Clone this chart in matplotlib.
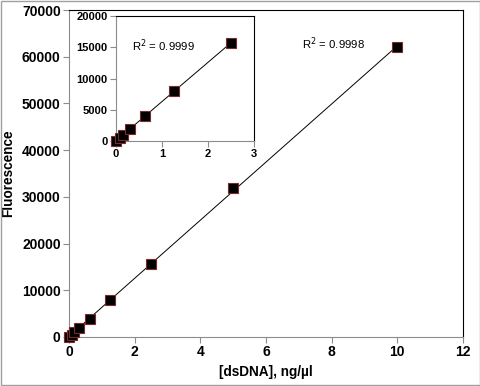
import numpy as np
import matplotlib
matplotlib.use('Agg')
import matplotlib.pyplot as plt
from matplotlib.patches import Rectangle

plt.rcParams['font.family'] = ['Liberation Sans', 'DejaVu Sans']

# standard curve data
conc = [0, 0.078, 0.156, 0.3125, 0.625, 1.25, 2.5, 5, 10]
fluor = [50, 520, 980, 2000, 3950, 7950, 15700, 31900, 62000]

slope, icept = np.polyfit(conc, fluor, 1)
inset_n = 7  # points shown in the inset (up to 2.5 ng/ul)
slope_i, icept_i = np.polyfit(conc[:inset_n], fluor[:inset_n], 1)

axis_grey = '#8c8c8c'


def style_axes(ax, fs):
    for s in ['left', 'bottom']:
        ax.spines[s].set_color(axis_grey)
    for s in ['top', 'right']:
        ax.spines[s].set_color('black')
    ax.tick_params(direction='out', color=axis_grey, length=4, width=0.8,
                   labelsize=fs, pad=2)
    for lab in ax.get_xticklabels() + ax.get_yticklabels():
        lab.set_fontweight('bold')


fig = plt.figure(figsize=(4.81, 3.86), dpi=100)
fig.patches.append(Rectangle((0.002, 0.003), 0.996, 0.994, transform=fig.transFigure,
                             fill=False, edgecolor='#a0a0a0', lw=1))

ax = fig.add_axes([0.1435, 0.127, 0.8191, 0.847])
xs = np.array([0, 10])
ax.plot(xs, slope * xs + icept, color='black', lw=0.7, zorder=2)
ax.plot(conc, fluor, 's', ms=7.5, mfc='black', mec='#7a2a2a', mew=0.8, zorder=3,
        clip_on=False)
ax.set_xlim(0, 12)
ax.set_ylim(0, 70000)
ax.set_xticks(np.arange(0, 13, 2))
ax.set_yticks(np.arange(0, 70001, 10000))
style_axes(ax, 10)
ax.set_xlabel('[dsDNA], ng/µl', fontsize=9.8, fontweight='bold', labelpad=4)
ax.set_ylabel('Fluorescence', fontsize=9.8, fontweight='bold', labelpad=5)
ax.text(8.05, 62700, 'R$^2$ = 0.9998', fontsize=8.2, ha='center', va='center')

axi = fig.add_axes([0.2412, 0.6347, 0.2869, 0.3238])
xi = np.array([0, 2.5])
axi.plot(xi, slope_i * xi + icept_i, color='black', lw=0.7, zorder=2)
axi.plot(conc[:inset_n], fluor[:inset_n], 's', ms=6.5, mfc='black', mec='#7a2a2a',
         mew=0.8, zorder=3, clip_on=False)
axi.set_xlim(0, 3)
axi.set_ylim(0, 20000)
axi.set_xticks([0, 1, 2, 3])
axi.set_yticks(np.arange(0, 20001, 5000))
style_axes(axi, 8)
axi.text(1.04, 15250, 'R$^2$ = 0.9999', fontsize=8.2, ha='center', va='center')

fig.savefig('out.png', dpi=100)
